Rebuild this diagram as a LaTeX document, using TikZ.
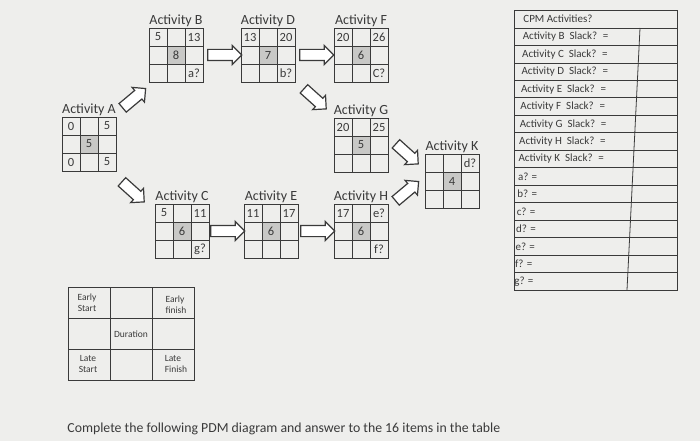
\documentclass[tikz,border=0pt]{standalone}
\usepackage{fontspec}
\setmainfont{Carlito}
\usetikzlibrary{shapes.arrows}
\definecolor{ink}{HTML}{3A3A3A}
\definecolor{bg}{HTML}{EEEEEC}
\definecolor{mid}{HTML}{C8C8C6}
\tikzset{
 every path/.style={line width=0.8pt},
 blk/.style={single arrow, draw=ink, line width=1.2pt, fill=white, single arrow head extend=4pt, minimum height=30pt, inner sep=5pt},
 cellt/.style={font=\fontsize{12.5}{13}\selectfont, text=ink, inner sep=0pt},
 ttl/.style={font=\fontsize{14}{15}\selectfont, text=ink, inner sep=0pt, anchor=south},
 tbl/.style={font=\fontsize{11}{12}\selectfont, text=ink, inner sep=0pt, anchor=west},
 lgd/.style={font=\fontsize{9.5}{11}\selectfont, text=ink, inner sep=0pt},
}
\newcommand\actgrid[9]{%
 \fill[mid] (#2+18,#3+18) rectangle (#2+36,#3+36);
 \node[draw=ink, minimum size=54pt, inner sep=0pt, anchor=north west] (#1) at (#2,#3) {};
 \draw[ink] (#2+18,#3)--(#2+18,#3+54) (#2+36,#3)--(#2+36,#3+54) (#2,#3+18)--(#2+54,#3+18) (#2,#3+36)--(#2+54,#3+36);
 \node[ttl] (#1t) at (#2+27,#3-1) {#4};
 \node[cellt] (#1a) at (#2+9,#3+9) {#5};
 \node[cellt] (#1b) at (#2+45,#3+9) {#6};
 \node[cellt] (#1c) at (#2+27,#3+27) {#7};
 \node[cellt] (#1d) at (#2+9,#3+45) {#8};
 \node[cellt] (#1e) at (#2+45,#3+45) {#9};
}
\begin{document}
\begin{tikzpicture}[x=1pt,y=-1pt]
\fill[bg] (0,0) rectangle (700,441);
\useasboundingbox (0,0) rectangle (700,441);
\actgrid{A}{62}{117}{Activity A}{0}{5}{5}{0}{5}
\actgrid{B}{149}{28}{Activity B}{5}{13}{8}{}{a?}
\actgrid{D}{241}{28}{Activity D}{13}{20}{7}{}{b?}
\actgrid{F}{334}{28}{Activity F}{20}{26}{6}{}{C?}
\actgrid{G}{334}{118}{Activity G}{20}{25}{5}{}{}
\actgrid{K}{425}{154}{Activity K}{}{d?}{4}{}{}
\actgrid{C}{155}{204}{Activity C}{5}{11}{6}{}{g?}
\actgrid{E}{244}{204}{Activity E}{11}{17}{6}{}{}
\actgrid{H}{334}{204}{Activity H}{17}{e?}{6}{}{f?}
% arrows
\node[blk, rotate=40] (ab) at (132,100) {};
\node[blk, minimum height=34pt] (bd) at (222,55) {};
\node[blk, minimum height=34pt] (df) at (314,55) {};
\node[blk, rotate=-42] (dg) at (313,97) {};
\node[blk, rotate=-42] (ac) at (131,190) {};
\node[blk, minimum height=34pt] (ce) at (225,231) {};
\node[blk, minimum height=34pt] (eh) at (315,231) {};
\node[blk, rotate=-42] (gk) at (405,152) {};
\node[blk, rotate=40] (hk) at (405,193) {};
% legend
\draw[ink] (68,287) rectangle (194,380) (110,287)--(110,380) (152,287)--(152,380) (68,318)--(194,318) (68,349)--(194,349);
\node[lgd, align=center] (l1) at (87,303) {Early\\Start};
\node[lgd, align=left] (l2) at (176,305) {Early\\finish};
\node[lgd] (l3) at (131,334) {Duration};
\node[lgd, align=center] (l4) at (88,364) {Late\\Start};
\node[lgd, align=left] (l5) at (176,364) {Late\\Finish};
% table
\draw[ink] (514,10) rectangle (677,290);
\draw[ink] (514,28)--(677,28);
\foreach \i in {1,...,14} \draw[ink] (514,{28+\i*17.47})--(677,{28+\i*17.47});
\draw[ink] (640,28)--(627,290);
\node[tbl] (th) at (523,19) {CPM Activities?};
\foreach [count=\i] \t in {Activity B\ \ Slack? \ =,Activity C\ \ Slack? \ =,Activity D\ \ Slack? \ =,Activity E\ \ Slack? \ =,Activity F\ \ Slack? \ =,Activity G\ \ Slack? \ =,Activity H\ \ Slack? \ =,Activity K\ \ Slack? \ =,a? =,b? =,c? =,d? =,e? =,f? =,g? =}
  \node[tbl] (r\i) at ({523-\i*0.6},{28+(\i-0.5)*17.47}) {\t};
\node[tbl, font=\fontsize{13.8}{15}\selectfont] (cap) at (67,429) {Complete the following PDM diagram and answer to the 16 items in the table};
\end{tikzpicture}
\end{document}
